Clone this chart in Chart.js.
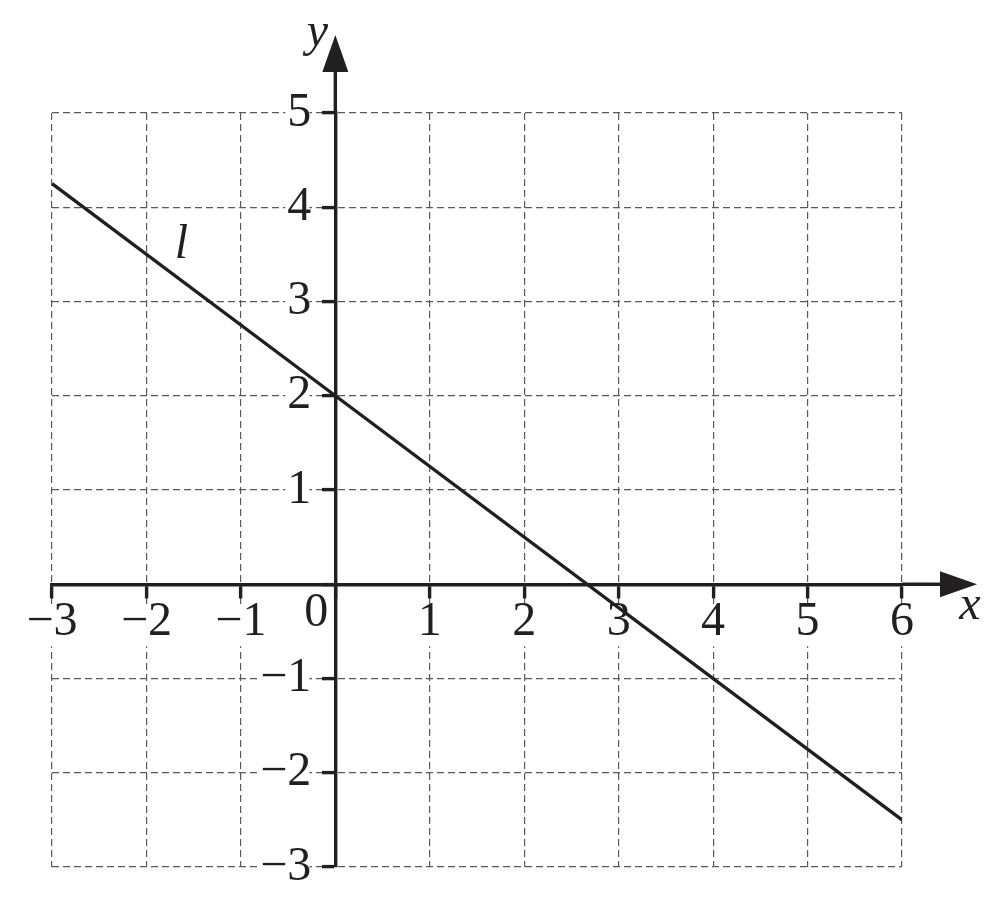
<!DOCTYPE html>
<html>
<head>
<meta charset="utf-8">
<script src="https://cdn.jsdelivr.net/npm/chart.js@4.4.0/dist/chart.umd.min.js"></script>
<style>
    html, body { margin: 0; padding: 0; background: #fff; }
    #grafik { display: block; }
</style>
</head>
<body>
<canvas id="grafik" width="1002" height="908"></canvas>
<script>
// Eksen degerleri
var xTicks = [-3, -2, -1, 0, 1, 2, 3, 4, 5, 6];
var yTicks = [-3, -2, -1, 0, 1, 2, 3, 4, 5];

// l dogrusu (resimden okunan noktalar)
var lineX = [-3, 0, 6];
var lineY = [4.25, 2, -2.5];
var lineName = 'l';

var ink = '#231f20';
var serif = '"Liberation Serif", "Times New Roman", serif';

function minusLabel(v) {
    return String(v).replace('-', '\u2212');
}

// Oklar, eksen adlari ve orijin yazisi
var axisArrows = {
    id: 'axisArrows',
    afterDraw: function (chart) {
        var ctx = chart.ctx;
        var area = chart.chartArea;
        var xs = chart.scales.x;
        var ys = chart.scales.y;
        var ox = xs.getPixelForValue(0);
        var oy = ys.getPixelForValue(0);

        ctx.save();
        ctx.strokeStyle = ink;
        ctx.fillStyle = ink;
        ctx.lineWidth = 3.4;

        // x ekseni uzantisi
        ctx.beginPath();
        ctx.moveTo(area.right, oy);
        ctx.lineTo(area.right + 45, oy);
        ctx.stroke();
        ctx.beginPath();
        ctx.moveTo(area.right + 75, oy);
        ctx.lineTo(area.right + 38, oy - 13);
        ctx.lineTo(area.right + 38, oy + 13);
        ctx.closePath();
        ctx.fill();

        // y ekseni uzantisi
        ctx.beginPath();
        ctx.moveTo(ox, area.top);
        ctx.lineTo(ox, area.top - 45);
        ctx.stroke();
        ctx.beginPath();
        ctx.moveTo(ox, area.top - 78);
        ctx.lineTo(ox - 13, area.top - 41);
        ctx.lineTo(ox + 13, area.top - 41);
        ctx.closePath();
        ctx.fill();

        ctx.textAlign = 'center';
        ctx.textBaseline = 'middle';
        ctx.font = '48px ' + serif;
        ctx.fillText('0', ox - 19, oy + 29);

        ctx.font = 'italic 48px ' + serif;
        ctx.fillText('x', area.right + 68, oy + 22);
        ctx.fillText('y', ox - 18, area.top - 80);
        ctx.fillText(lineName, xs.getPixelForValue(-1.63), ys.getPixelForValue(3.6));
        ctx.restore();
    }
};

function axisOptions(ticks, min, max, pos, isY) {
    return {
        type: 'linear',
        position: pos,
        min: min,
        max: max,
        afterBuildTicks: function (scale) {
            scale.ticks = ticks.map(function (v) { return { value: v }; });
        },
        ticks: {
            autoSkip: false,
            maxRotation: 0,
            padding: 2,
            color: ink,
            font: { family: serif, size: 48, lineHeight: 1 },
            callback: function (v) {
                if (v === 0) return '';
                // y etiketleri eksenin soluna kaysin diye bosluk
                return isY ? minusLabel(v) + '\u2002' : minusLabel(v);
            },
            showLabelBackdrop: true,
            backdropColor: function (c) {
                return c.tick && c.tick.value === 0 ? 'rgba(255,255,255,0)' : '#ffffff';
            },
            backdropPadding: isY ? { top: -10, bottom: -10, left: 2, right: -26 }
                                 : { top: -6, bottom: 0, left: 2, right: 2 }
        },
        grid: {
            color: '#5a5a5a',
            lineWidth: 1.2,
            tickLength: 12,
            tickWidth: 3.4,
            tickColor: ink,
            tickBorderDash: []
        },
        border: { color: ink, width: 3.4, dash: [7, 4] }
    };
}

var ctx = document.getElementById('grafik');
new Chart(ctx, {
    type: 'scatter',
    data: {
        datasets: [{
            label: lineName,
            data: lineX.map(function (x, i) { return { x: x, y: lineY[i] }; }),
            showLine: true,
            borderColor: ink,
            borderWidth: 3.4,
            pointRadius: 0,
            fill: false
        }]
    },
    options: {
        responsive: false,
        animation: false,
        layout: { padding: { left: 52, right: 100, top: 113, bottom: 41 } },
        plugins: {
            legend: { display: false },
            tooltip: { enabled: false }
        },
        scales: {
            x: axisOptions(xTicks, -3, 6, { y: 0 }, false),
            y: axisOptions(yTicks, -3, 5, { x: 0 }, true)
        }
    },
    plugins: [axisArrows]
});
</script>
</body>
</html>
